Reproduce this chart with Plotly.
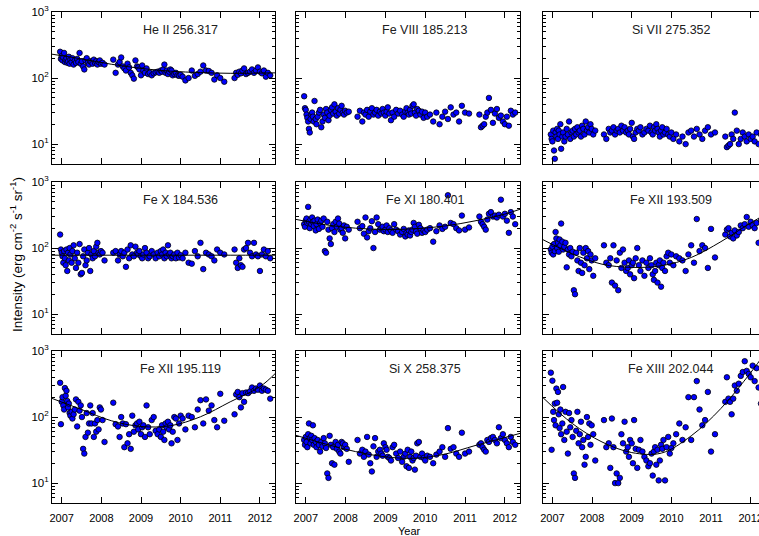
import plotly.graph_objects as go
import math

# ---------------- data ----------------
dates = [
    2006.96, 2006.98, 2007.00, 2007.02, 2007.04, 2007.06, 2007.08, 2007.10, 2007.12, 2007.14,
    2007.16, 2007.18, 2007.20, 2007.22, 2007.25, 2007.27, 2007.30, 2007.33, 2007.36, 2007.39,
    2007.42, 2007.45, 2007.48, 2007.51, 2007.54, 2007.57, 2007.60, 2007.63, 2007.66, 2007.69,
    2007.72, 2007.75, 2007.78, 2007.81, 2007.84, 2007.87, 2007.90, 2007.93, 2007.96, 2007.99,
    2008.03, 2008.08,
    2008.30, 2008.36, 2008.42, 2008.46, 2008.50, 2008.54, 2008.58, 2008.62, 2008.66, 2008.70,
    2008.74, 2008.78, 2008.82, 2008.86,
    2008.90, 2008.93, 2008.96, 2009.00, 2009.03, 2009.06, 2009.10, 2009.14, 2009.18, 2009.22,
    2009.27, 2009.32, 2009.37, 2009.42, 2009.46, 2009.50, 2009.53, 2009.56, 2009.59, 2009.62,
    2009.65, 2009.68, 2009.71, 2009.74, 2009.77, 2009.80, 2009.84, 2009.88, 2009.92, 2009.96,
    2010.00, 2010.05,
    2010.12, 2010.20, 2010.28, 2010.36, 2010.43, 2010.50, 2010.57, 2010.64, 2010.71, 2010.78,
    2010.85, 2010.92, 2011.00, 2011.10,
    2011.36, 2011.40, 2011.44, 2011.48, 2011.52, 2011.56, 2011.60, 2011.65, 2011.70, 2011.75,
    2011.80, 2011.85, 2011.90, 2011.95, 2012.00, 2012.05, 2012.10, 2012.15, 2012.20, 2012.26,
]

he2 = [
    250, 195, 215, 185, 205, 240, 175, 190, 200, 170, 180, 210, 165, 190, 175, 200, 160, 185, 170, 195,
    175, 240, 165, 180, 150, 135, 185, 200, 170, 160, 180, 175, 165, 190, 170, 180, 160, 175, 185, 165,
    170, 160,
    190, 120, 160, 175, 205, 150, 140, 130, 165, 145, 120, 110, 98, 185,
    150, 145, 135, 110, 155, 130, 120, 140, 115, 120, 110, 118, 122, 125, 120, 130, 125, 135, 160, 120,
    130, 115, 125, 135, 130, 110, 115, 120, 110, 108, 112, 105,
    92, 100, 130, 108, 115, 125, 155, 130, 128, 120, 95, 110, 100, 88,
    100, 120, 112, 125, 118, 130, 140, 115, 120, 125, 135, 120, 130, 145, 125, 118, 130, 105, 120, 110,
]
fe8 = [
    53, 35, 33, 28, 25, 22, 17, 15, 24, 28, 30, 26, 22, 45, 24, 20, 26, 30, 33, 18,
    22, 28, 25, 34, 30, 23, 27, 33, 36, 29, 40, 31, 27, 35, 29, 33, 38, 30, 28, 32,
    30, 31,
    26, 32, 22, 30, 28, 33, 26, 31, 35, 28, 30, 33, 27, 31,
    29, 34, 30, 27, 31, 36, 29, 23, 30, 26, 33, 29, 32, 28, 26, 31, 35, 30, 28, 33,
    29, 38, 40, 30, 27, 34, 32, 28, 31, 25, 30, 26,
    28, 22, 30, 20, 26, 31, 24, 36, 28, 30, 22, 38, 30, 29,
    28, 18, 19, 20, 26, 30, 50, 33, 21, 29, 34, 25, 27, 22, 20, 26, 19, 32, 28, 30,
]
si7 = [
    14, 12, 11, 16, 8, 6, 15, 13, 17, 12, 16, 14, 20, 8.5, 13, 15, 11, 13, 17, 14,
    22, 12, 15, 16, 13, 17, 14, 18, 15, 16, 13, 19, 17, 14, 22, 16, 18, 15, 20, 17,
    14, 16,
    14, 12, 17, 15, 16, 18, 14, 16, 17, 15, 19, 16, 18, 15,
    16, 14, 17, 21, 13, 12, 15, 17, 16, 18, 14, 15, 17, 16, 19, 15, 14, 18, 16, 20,
    17, 15, 13, 16, 18, 14, 15, 17, 14, 13, 15, 12,
    14, 11, 13, 10, 15, 16, 13, 17, 14, 12, 16, 18, 14, 15,
    13, 9, 9.5, 10, 14, 12, 30, 16, 10, 12, 15, 13, 11, 14, 12, 13, 11, 15, 10, 14,
]
fe10 = [
    160, 95, 85, 75, 60, 90, 70, 55, 95, 45, 85, 65, 100, 80, 60, 90, 110, 70, 50, 85,
    60, 115, 40, 42, 75, 95, 55, 65, 85, 100, 45, 80, 70, 90, 75, 105, 120, 85, 80, 90,
    85, 65,
    85, 90, 65, 80, 90, 75, 85, 52, 95, 70, 110, 80, 75, 105,
    85, 80, 90, 75, 70, 80, 100, 85, 70, 75, 90, 80, 70, 85, 75, 90, 80, 95, 70, 85,
    75, 110, 80, 85, 70, 75, 80, 70, 85, 72, 78, 70,
    85, 60, 58, 90, 75, 120, 48, 85, 80, 75, 65, 95, 85, 80,
    95, 60, 50, 70, 55, 52, 95, 100, 120, 85, 75, 120, 80, 75, 45, 80, 95, 75, 90, 70,
]
fe11 = [
    230, 210, 260, 280, 240, 420, 250, 200, 270, 230, 290, 250, 215, 260, 185, 230, 270, 195, 240, 260,
    210, 280, 90, 85, 250, 190, 140, 115, 200, 230, 175, 250, 210, 280, 235, 190, 200, 170, 220, 140,
    210, 190,
    250, 200, 215, 165, 290, 145, 180, 200, 255, 100, 175, 290, 230, 190,
    200, 210, 180, 190, 220, 175, 200, 185, 170, 230, 190, 180, 160, 175, 195, 150, 170, 160, 185, 155,
    175, 190, 240, 210, 180, 165, 225, 200, 170, 185, 175, 190,
    200, 125, 180, 220, 195, 210, 630, 240, 230, 200, 185, 310, 190, 205,
    300, 250, 230, 210, 190, 270, 330, 350, 300, 310, 290, 320, 540, 300, 330, 260, 170, 350, 300, 230,
]
fe12a = [
    95, 85, 105, 80, 115, 90, 175, 140, 100, 120, 88, 135, 110, 235, 125, 95, 105, 120, 51, 95,
    80, 100, 75, 88, 23, 20, 85, 65, 45, 100, 60, 42, 85, 55, 100, 70, 90, 48, 80, 65,
    38, 70,
    110, 60, 55, 70, 30, 110, 27, 65, 23, 85, 50, 95, 60, 45,
    50, 65, 40, 55, 60, 35, 70, 100, 55, 45, 65, 38, 60, 50, 70, 55, 40, 33, 45, 60,
    30, 55, 65, 26, 50, 60, 45, 75, 85, 60, 80, 55,
    75, 70, 65, 45, 80, 110, 60, 275, 90, 110, 100, 50, 195, 72,
    160, 190, 200, 150, 170, 140, 185, 155, 175, 220, 200, 230, 295, 210, 250, 220, 200, 240, 120, 260,
]
fe12b = [
    330, 78, 170, 200, 150, 130, 275, 210, 250, 175, 140, 160, 115, 105, 120, 95, 110, 130, 185, 72,
    170, 125, 150, 100, 33, 28, 50, 115, 58, 80, 150, 80, 115, 50, 80, 60, 90, 65, 140, 130,
    90, 42,
    165, 78, 72, 50, 100, 80, 35, 78, 40, 55, 33, 105, 60, 75,
    80, 65, 85, 55, 70, 75, 50, 150, 70, 55, 90, 100, 62, 55, 65, 50, 75, 60, 45, 80,
    70, 85, 65, 75, 40, 60, 100, 95, 45, 80, 105, 95,
    65, 105, 100, 70, 130, 180, 80, 185, 125, 150, 90, 70, 225, 88,
    110, 220, 240, 200, 140, 230, 170, 235, 230, 245, 280, 250, 270, 260, 300, 250, 270, 260, 250, 190,
]
si10 = [
    45, 38, 50, 42, 35, 55, 80, 48, 40, 52, 45, 75, 38, 48, 42, 35, 45, 38, 30, 42,
    36, 48, 40, 34, 14, 12, 52, 38, 20, 35, 19, 42, 33, 38, 30, 28, 42, 40, 35, 38,
    33, 21,
    45, 28, 32, 25, 30, 50, 27, 20, 15, 36, 48, 25, 30, 32,
    28, 26, 40, 35, 32, 25, 24, 22, 35, 38, 28, 24, 30, 21, 25, 28, 18, 32, 17, 25,
    30, 22, 24, 16, 26, 40, 42, 25, 28, 24, 22, 26,
    25, 20, 27, 30, 35, 25, 68, 33, 35, 28, 25, 58, 28, 30,
    38, 40, 35, 32, 30, 45, 42, 48, 50, 45, 40, 70, 48, 55, 45, 40, 35, 50, 42, 38,
]
fe13 = [
    470, 32, 355, 120, 90, 160, 75, 270, 165, 240, 110, 68, 130, 55, 80, 285, 45, 120, 60, 28,
    115, 70, 90, 50, 14, 12, 62, 120, 40, 55, 85, 35, 45, 19, 25, 100, 50, 80, 38, 75,
    55, 22,
    90, 35, 40, 17, 95, 35, 10, 14, 10, 12, 55, 40, 85, 30,
    35, 25, 45, 40, 20, 90, 33, 17, 32, 45, 30, 25, 22, 18, 20, 28, 13, 30, 35, 19,
    32, 11, 22, 38, 33, 45, 11, 35, 50, 28, 34, 40,
    55, 80, 45, 70, 200, 45, 200, 350, 130, 75, 90, 240, 30, 55,
    170, 400, 190, 170, 110, 190, 300, 250, 320, 420, 480, 700, 500, 450, 400, 600, 350, 550, 280, 160,
]

# fitted trend lines at these years
fit_years = [2006.75, 2007.5, 2008.25, 2009.0, 2009.75, 2010.5, 2011.25, 2012.0, 2012.4]
he2_fit = [230, 195, 162, 140, 127, 121, 118, 119, 120]
fe10_fit = [78, 78, 78, 78, 78, 78, 78, 78, 78]
fe11_fit = [272, 225, 200, 191, 196, 216, 258, 327, 390]
fe12a_fit = [135, 82, 57, 51, 54, 72, 125, 240, 330]
fe12b_fit = [192, 130, 88, 72, 74, 101, 170, 288, 465]
si10_fit = [53, 39, 30, 25, 23.8, 27.5, 37, 49, 57]
fe13_fit = [200, 80, 42, 29, 28.5, 52, 135, 470, 1000]

titles = ["He II 256.317", "Fe VIII 185.213", "Si VII 275.352",
          "Fe X 184.536", "Fe XI 180.401", "Fe XII 193.509",
          "Fe XII 195.119", "Si X 258.375", "Fe XIII 202.044"]
series = [he2, fe8, si7, fe10, fe11, fe12a, fe12b, si10, fe13]
fits = [he2_fit, None, None, fe10_fit, fe11_fit, fe12a_fit, fe12b_fit, si10_fit, fe13_fit]

year_ticks = [2007, 2008, 2009, 2010, 2011, 2012]
y_major = [10, 100, 1000]
y_major_text = ["10<sup>1</sup>", "10<sup>2</sup>", "10<sup>3</sup>"]
y_minor = [5, 6, 7, 8, 9, 20, 30, 40, 50, 60, 70, 80, 90, 200, 300, 400, 500, 600, 700, 800, 900]

for s in series:
    if len(s) != len(dates):
        raise ValueError("length mismatch %d" % len(s))

# ---------------- layout ----------------
W, H = 759, 536
col_px = [(52, 275), (296, 520), (542.7, 759)]
row_px = [(12, 164), (182, 334), (351, 503)]
x_ranges = [[2006.755, 2012.38], [2006.755, 2012.38], [2006.755, 2012.21]]
FONT = "Liberation Sans, Arial, Helvetica, sans-serif"

fig = go.Figure()
layout = {}
annotations = []
for i in range(9):
    r, c = divmod(i, 3)
    n = i + 1
    xs = "x" if n == 1 else "x%d" % n
    ys = "y" if n == 1 else "y%d" % n
    fig.add_trace(go.Scatter(
        x=dates, y=series[i], mode="markers", xaxis=xs, yaxis=ys,
        marker=dict(size=5.5, color="#0000ff", line=dict(color="black", width=0.8)),
        showlegend=False, hoverinfo="x+y"))
    if fits[i] is not None:
        fig.add_trace(go.Scatter(
            x=fit_years, y=fits[i], mode="lines", xaxis=xs, yaxis=ys,
            line=dict(color="black", width=1, shape="spline", smoothing=1.0),
            showlegend=False, hoverinfo="skip"))
    x0, x1 = col_px[c]
    y0, y1 = row_px[r]
    layout["xaxis" if n == 1 else "xaxis%d" % n] = dict(
        domain=[x0 / W, x1 / W], anchor=ys, range=x_ranges[c],
        tickmode="array", tickvals=year_ticks, ticktext=[str(t) for t in year_ticks],
        ticks="inside", ticklen=6, tickwidth=1, tickcolor="black",
        showline=True, linecolor="black", linewidth=1, mirror="ticks",
        showgrid=False, zeroline=False, showticklabels=(r == 2),
        ticklabelstandoff=5, ticklabeloverflow="allow",
        tickfont=dict(family=FONT, size=11, color="black"), automargin=False)
    layout["yaxis" if n == 1 else "yaxis%d" % n] = dict(
        domain=[1 - y1 / H, 1 - y0 / H], anchor=xs, type="log",
        range=[math.log10(5), 3],
        tickmode="array", tickvals=y_major, ticktext=y_major_text,
        ticks="inside", ticklen=6, tickwidth=1, tickcolor="black",
        minor=dict(tickmode="array", tickvals=y_minor, ticks="inside", ticklen=3,
                   tickwidth=1, tickcolor="black", showgrid=False),
        showline=True, linecolor="black", linewidth=1,
        mirror=("ticks" if c < 2 else False),
        showgrid=False, zeroline=False, showticklabels=(c == 0),
        tickfont=dict(family=FONT, size=11.5, color="black"), automargin=False)
    annotations.append(dict(
        x=2010.0, y=math.log10(540), xref=xs, yref=ys, text=titles[i], showarrow=False,
        xanchor="center", yanchor="middle",
        font=dict(family=FONT, size=12.5, color="#202020")))

annotations.append(dict(
    x=409.5 / W, y=1 - 531 / H, xref="paper", yref="paper", text="Year", showarrow=False,
    xanchor="center", yanchor="middle", font=dict(family=FONT, size=11, color="black")))
annotations.append(dict(
    x=16 / W, y=1 - 255 / H, xref="paper", yref="paper",
    text="Intensity (erg cm<sup>-2</sup> s<sup>-1</sup> sr<sup>-1</sup>)",
    showarrow=False, textangle=-90, xanchor="center", yanchor="middle",
    font=dict(family=FONT, size=13.5, color="black")))

fig.update_layout(
    width=W, height=H, margin=dict(l=0, r=0, t=0, b=0, pad=0),
    paper_bgcolor="white", plot_bgcolor="white",
    annotations=annotations, **layout)

fig.write_html(
    "out.html",
    config={"displayModeBar": False},
    post_script="document.body.style.margin='0';document.body.style.padding='0';"
                "document.body.style.overflow='hidden';")
